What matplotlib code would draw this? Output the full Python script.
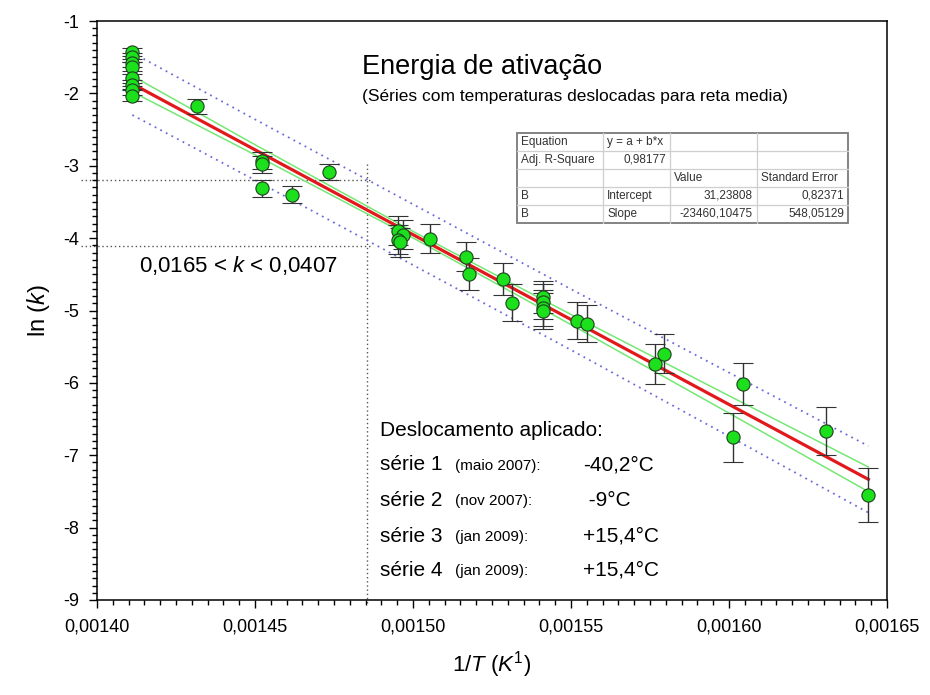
import numpy as np
import matplotlib.pyplot as plt
from matplotlib.lines import Line2D
from matplotlib.ticker import MultipleLocator, FuncFormatter

plt.rcParams['font.family'] = 'Liberation Sans'
plt.rcParams['mathtext.fontset'] = 'custom'
plt.rcParams['mathtext.rm'] = 'Liberation Sans'
plt.rcParams['mathtext.it'] = 'Liberation Sans:italic'

# ---- measured points: 1/T (1/K), ln(k), error ----
inv_T = [
    0.0014112, 0.0014112, 0.0014112, 0.0014112, 0.0014112, 0.0014112, 0.0014112, 0.0014112,
    0.0014316,
    0.0014521, 0.0014521, 0.0014521,
    0.0014616,
    0.0014735,
    0.0014953, 0.0014969, 0.0014953, 0.0014958,
    0.0015054,
    0.0015168, 0.0015178,
    0.0015284, 0.0015312,
    0.0015412, 0.0015412, 0.0015412, 0.0015412,
    0.0015518, 0.0015550,
    0.0015766, 0.0015794,
    0.0016014, 0.0016045,
    0.0016306,
    0.0016441,
]
ln_k = [
    -1.43, -1.50, -1.58, -1.63, -1.79, -1.88, -1.96, -2.03,
    -2.18,
    -2.93, -2.98, -3.31,
    -3.40,
    -3.09,
    -3.90, -3.95, -4.02, -4.06,
    -4.01,
    -4.26, -4.49,
    -4.56, -4.89,
    -4.81, -4.88, -4.97, -5.01,
    -5.14, -5.18,
    -5.74, -5.60,
    -6.75, -6.02,
    -6.66,
    -7.55,
]
ln_k_err = [
    0.06, 0.06, 0.06, 0.06, 0.06, 0.06, 0.06, 0.07,
    0.10,
    0.12, 0.12, 0.12,
    0.12,
    0.11,
    0.20, 0.20, 0.20, 0.20,
    0.20,
    0.20, 0.22,
    0.22, 0.25,
    0.22, 0.24, 0.25, 0.25,
    0.26, 0.26,
    0.28, 0.27,
    0.34, 0.29,
    0.33,
    0.37,
]

# ---- linear fit y = a + b*x ----
intercept = 31.23808
intercept_err = 0.82371
slope = -23460.10475
slope_err = 548.05129
adj_r2 = 0.98177

# half widths of the 95% confidence / prediction bands
band_x = [0.0014112, 0.00145, 0.00150, 0.00155, 0.00160, 0.0016441]
conf_hw = [0.11, 0.07, 0.045, 0.07, 0.12, 0.17]
pred_hw = [0.43, 0.42, 0.42, 0.42, 0.44, 0.46]

# k range read at 400 degC
k_low = 0.0165
k_high = 0.0407
x_ref = 1 / 673.15

series_names = ["série 1", "série 2", "série 3", "série 4"]
series_dates = ["(maio 2007):", "(nov 2007):", "(jan 2009):", "(jan 2009):"]
series_shift = ["-40,2°C", " -9°C", "+15,4°C", "+15,4°C"]

W, H = 930, 695


def px(x, y):
    return x / W, 1 - y / H


fig = plt.figure(figsize=(W / 100, H / 100), dpi=100)
ax = fig.add_axes([97 / W, 95 / H, 790 / W, 579 / H])

x = np.array(inv_T)
y = np.array(ln_k)

# fit line and bands
xs = np.array([x.min(), x.max()])
ax.plot(xs, intercept + slope * xs, color='#e2191c', lw=2.3, zorder=3)
bx = np.array(band_x)
fb = intercept + slope * bx
for s in (1, -1):
    ax.plot(bx, fb + s * np.array(conf_hw), color='#74e874', lw=1.1, zorder=3)
    ax.plot(bx, fb + s * np.array(pred_hw), color='#6b6bd8', lw=1.3,
            ls=(0, (1, 2.5)), zorder=2)

# data with error bars
ax.errorbar(x, y, yerr=ln_k_err, fmt='o', ms=9.5, mfc='#1be01b', mec='#204020',
            mew=0.8, ecolor='#333333', elinewidth=1.0, capsize=7, capthick=1.0,
            zorder=4)

# reference lines for the k range
ref_kw = dict(color='#555555', lw=1.0, ls=(0, (1, 2)), clip_on=False, zorder=1)
for kv in (k_high, k_low):
    ax.plot([0.001395, x_ref + 0.0000015], [np.log(kv)] * 2, **ref_kw)
ax.plot([x_ref, x_ref], [-2.97, -9.05], **ref_kw)

ax.set_xlim(0.0014, 0.00165)
ax.set_ylim(-9, -1)
ax.xaxis.set_major_locator(MultipleLocator(0.00005))
ax.xaxis.set_minor_locator(MultipleLocator(0.000005))
ax.yaxis.set_major_locator(MultipleLocator(1))
ax.yaxis.set_minor_locator(MultipleLocator(0.1))
ax.xaxis.set_major_formatter(FuncFormatter(lambda v, p: f"{v:.5f}".replace('.', ',')))
ax.yaxis.set_major_formatter(FuncFormatter(lambda v, p: f"{int(round(v))}"))
ax.tick_params(which='both', direction='out', top=False, right=False,
               width=1.0, labelsize=13, pad=7)
ax.tick_params(which='major', length=6)
ax.tick_params(which='minor', length=3.5)
for sp in ax.spines.values():
    sp.set_linewidth(1.1)

ax.set_xlabel('1/$T$ ($K^{1}$)', fontsize=16, labelpad=10)
ax.set_ylabel('ln ($k$)', fontsize=17, labelpad=8)

# titles
fig.text(*px(362, 67), 'Energia de ativação', fontsize=19.5, va='center', ha='left')
fig.text(*px(362, 96), '(Séries com temperaturas deslocadas para reta media)',
         fontsize=12.5, va='center', ha='left')

fig.text(*px(139, 265), '0,0165 < $k$ < 0,0407', fontsize=16, va='center', ha='left')

# applied shifts
fig.text(*px(380, 430), 'Deslocamento aplicado:', fontsize=15, va='center', ha='left')
row_y = [465, 500, 536, 570]
for name, date, shift, ry in zip(series_names, series_dates, series_shift, row_y):
    fig.text(*px(380, ry), name, fontsize=15, va='center', ha='left')
    fig.text(*px(455, ry + 1), date, fontsize=11, va='center', ha='left')
    fig.text(*px(583, ry), shift, fontsize=15, va='center', ha='left')

# fit results table
fmt = lambda v: f"{v:.5f}".replace('.', ',')
cells = [
    ["Equation", "y = a + b*x", "", ""],
    ["Adj. R-Square", fmt(adj_r2), "", ""],
    ["", "", "Value", "Standard Error"],
    ["B", "Intercept", fmt(intercept), fmt(intercept_err)],
    ["B", "Slope", fmt(slope), fmt(slope_err)],
]
right_cells = {(1, 1), (3, 2), (3, 3), (4, 2), (4, 3)}
col_x = [517, 603, 670, 757, 848]
row_edges = [133, 151, 169, 187, 205, 223]
fig.patches.append(plt.Rectangle(px(col_x[0], row_edges[-1]),
                                 (col_x[-1] - col_x[0]) / W,
                                 (row_edges[-1] - row_edges[0]) / H,
                                 transform=fig.transFigure, facecolor='white',
                                 edgecolor='#7a7a7a', lw=1.3, zorder=5))
for cx in col_x[1:-1]:
    fig.add_artist(Line2D([cx / W] * 2, [1 - row_edges[0] / H, 1 - row_edges[-1] / H],
                          color='#cfcfcf', lw=0.9, zorder=6))
for ry in row_edges[1:-1]:
    fig.add_artist(Line2D([col_x[0] / W, col_x[-1] / W], [1 - ry / H] * 2,
                          color='#cfcfcf', lw=0.9, zorder=6))
for i, row in enumerate(cells):
    cy = (row_edges[i] + row_edges[i + 1]) / 2
    for j, txt in enumerate(row):
        if not txt:
            continue
        if (i, j) in right_cells:
            fig.text(*px(col_x[j + 1] - 4, cy), txt, fontsize=8.5, color='#333333',
                     ha='right', va='center', zorder=7)
        else:
            fig.text(*px(col_x[j] + 4, cy), txt, fontsize=8.5, color='#333333',
                     ha='left', va='center', zorder=7)

fig.savefig('out.png', dpi=100)
